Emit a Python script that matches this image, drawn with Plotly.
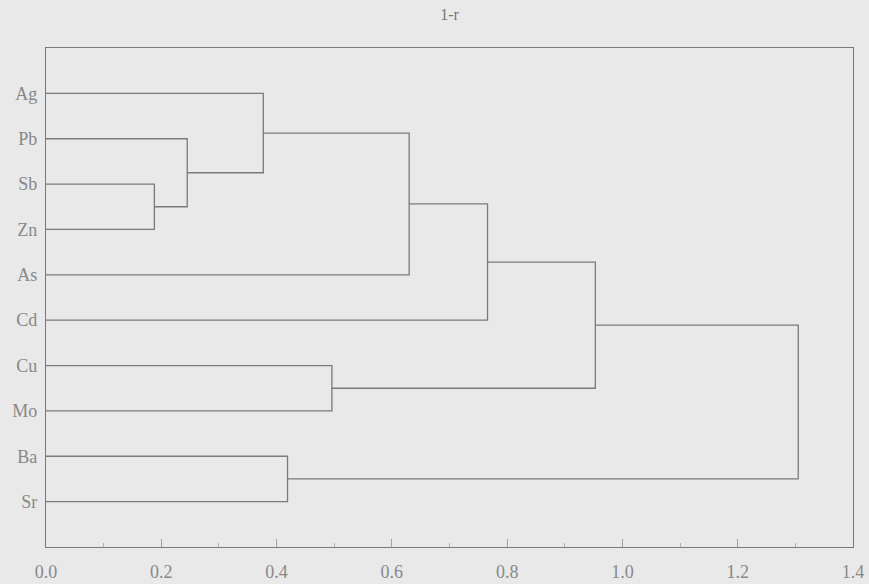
import plotly.graph_objects as go

leaves = ["Ag", "Pb", "Sb", "Zn", "As", "Cd", "Cu", "Mo", "Ba", "Sr"]
# merges: (left, right, height) ; clusters referred to as "c1".."c9"
merge_left = ["Sb", "Pb", "Ag", "c3", "c4", "Cu", "c5", "Ba", "c7"]
merge_right = ["Zn", "c1", "c2", "As", "Cd", "Mo", "c6", "Sr", "c8"]
merge_height = [0.188, 0.245, 0.377, 0.630, 0.766, 0.496, 0.953, 0.419, 1.305]
x_ticks = [0.0, 0.2, 0.4, 0.6, 0.8, 1.0, 1.2, 1.4]
x_tick_labels = ["0.0", "0.2", "0.4", "0.6", "0.8", "1.0", "1.2", "1.4"]

pos = {name: (0.0, i + 1) for i, name in enumerate(leaves)}
line_color = "#7a7a7a"
fig = go.Figure()
xs, ys = [], []
for k, (a, b, h) in enumerate(zip(merge_left, merge_right, merge_height)):
    xa, ya = pos[a]
    xb, yb = pos[b]
    xs += [xa, h, h, xb, None]
    ys += [ya, ya, yb, yb, None]
    pos["c%d" % (k + 1)] = (h, (ya + yb) / 2)

fig.add_trace(go.Scatter(x=xs, y=ys, mode="lines",
                         line=dict(color=line_color, width=1.3),
                         hoverinfo="skip", showlegend=False))

font_fam = "Liberation Serif, Times New Roman, serif"
fig.update_layout(
    width=869, height=584,
    margin=dict(l=46, r=16, t=48, b=37),
    paper_bgcolor="#e9e9e9", plot_bgcolor="#e9e9e9",
    title=dict(text="1-r", x=0.5, xref="paper", xanchor="center", y=0.975, yanchor="middle",
               font=dict(family=font_fam, size=16, color="#777777")),
    font=dict(family=font_fam, size=17, color="#888888"),
    xaxis=dict(range=[0, 1.4], tickvals=x_ticks, ticktext=x_tick_labels,
               ticks="inside", ticklen=8, tickcolor="#a0a0a0", tickwidth=1,
               minor=dict(dtick=0.1, ticks="inside", ticklen=4, tickcolor="#b0b0b0"),
               showgrid=False, zeroline=False, showline=True, mirror=True,
               linecolor=line_color, linewidth=1.3, ticklabelstandoff=8,
               automargin=False,
               tickfont=dict(family=font_fam, size=18, color="#888888")),
    yaxis=dict(range=[11, 0], tickvals=list(range(1, len(leaves) + 1)), ticktext=leaves,
               ticks="", showgrid=False, zeroline=False, showline=True, mirror=True,
               linecolor=line_color, linewidth=1.3, ticklabelstandoff=4,
               automargin=False,
               tickfont=dict(family=font_fam, size=18, color="#888888")),
)
fig.write_html("out.html", config={"displayModeBar": False},
               post_script="document.body.style.margin='0';document.body.style.padding='0';")
